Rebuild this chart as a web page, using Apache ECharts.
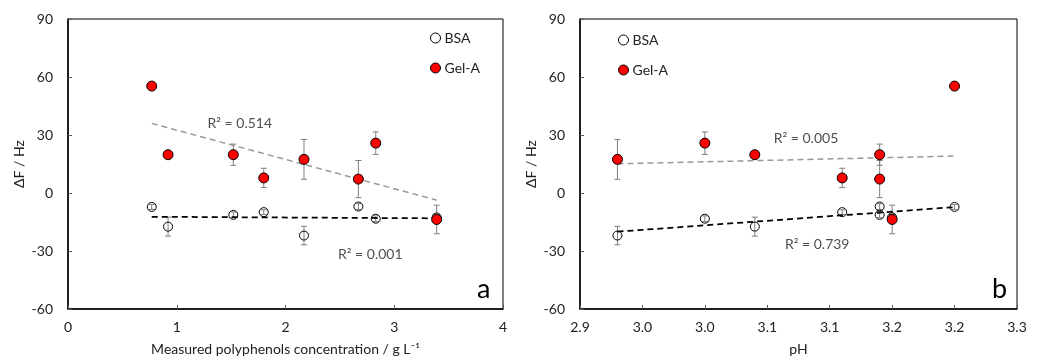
<!DOCTYPE html>
<html>
<head>
<meta charset="utf-8">
<script src="https://cdn.jsdelivr.net/npm/echarts@6/dist/echarts.min.js"></script>
<style>
  html, body { margin: 0; padding: 0; background: #fff; }
  #chart { width: 1040px; height: 361px; }
</style>
</head>
<body>
<div id="chart"></div>
<script>
  // one entry per sample, same order in every array
  const conc = [0.77, 0.92, 1.52, 1.80, 2.17, 2.67, 2.83, 3.39];
  const pH = [3.20, 3.04, 3.14, 3.11, 2.93, 3.14, 3.00, 3.15];
  const gelA = [55.3, 19.8, 19.8, 7.8, 17.4, 7.2, 25.8, -13.7];
  const gelAErr = [0, 0, 5.5, 5.0, 10.3, 9.6, 5.8, 7.4];
  const bsa = [-7.2, -17.4, -11.3, -9.9, -22.0, -7.0, -13.3, -12.6];
  const bsaErr = [1.3, 4.9, 1.5, 1.2, 4.8, 1.5, 1.5, 1.5];

  // trend lines, end points
  const gelTrendA = [[0.77, 36.0], [3.39, -3.7]];
  const bsaTrendA = [[0.77, -12.3], [3.39, -13.1]];
  const gelTrendB = [[2.93, 15.1], [3.20, 19.1]];
  const bsaTrendB = [[2.93, -20.0], [3.20, -7.3]];

  const r2A = ['0.514', '0.001'];
  const r2B = ['0.005', '0.739'];

  const yTicks = { min: -60, max: 90, interval: 30 };

  const font = 'Lato';
  const txt = '#222';

  function zip(xs, ys) {
    return xs.map((x, i) => [x, ys[i]]);
  }
  function zipErr(xs, ys, es) {
    return xs.map((x, i) => [x, ys[i], es[i]]).filter(d => d[2] > 0);
  }

  function errRender(params, api) {
    const x = api.value(0), y = api.value(1), e = api.value(2);
    const top = api.coord([x, y + e]);
    const bot = api.coord([x, y - e]);
    const w = 3;
    const style = { stroke: '#7f7f7f', lineWidth: 1 };
    return {
      type: 'group',
      children: [
        { type: 'line', shape: { x1: top[0], y1: top[1], x2: bot[0], y2: bot[1] }, style: style },
        { type: 'line', shape: { x1: top[0] - w, y1: top[1], x2: top[0] + w, y2: top[1] }, style: style },
        { type: 'line', shape: { x1: bot[0] - w, y1: bot[1], x2: bot[0] + w, y2: bot[1] }, style: style }
      ]
    };
  }

  function xAxis(gi, name, min, max, interval, fmt) {
    return {
      gridIndex: gi, type: 'value', min: min, max: max, interval: interval,
      name: name, nameLocation: 'middle', nameGap: 33,
      nameTextStyle: { fontFamily: font, fontSize: 14, color: txt },
      axisLine: { onZero: false, lineStyle: { color: '#000', width: 1.5 } },
      axisTick: { inside: true, length: 4, lineStyle: { color: '#595959' } },
      axisLabel: { margin: 11, fontFamily: font, fontSize: 14, color: txt, formatter: fmt },
      splitLine: { show: false }
    };
  }
  function yAxis(gi) {
    return {
      gridIndex: gi, type: 'value', min: yTicks.min, max: yTicks.max, interval: yTicks.interval,
      name: 'ΔF / Hz', nameLocation: 'middle', nameGap: 42,
      nameTextStyle: { fontFamily: font, fontSize: 14, color: txt },
      axisLine: { onZero: false, lineStyle: { color: '#000', width: 1.5 } },
      axisTick: { inside: true, length: 4, lineStyle: { color: '#595959' } },
      axisLabel: { margin: 15, fontFamily: font, fontSize: 14, color: txt },
      splitLine: { show: false }
    };
  }

  function trend(gi, data, color, width) {
    return {
      type: 'line', name: 'trend', xAxisIndex: gi, yAxisIndex: gi, data: data,
      symbol: 'none', silent: true, z: 2,
      lineStyle: { color: color, width: width, type: [6, 4] }
    };
  }
  function errors(gi, data) {
    return {
      type: 'custom', name: 'err', xAxisIndex: gi, yAxisIndex: gi,
      renderItem: errRender, data: data, z: 1, silent: true
    };
  }
  function bsaSeries(gi, data) {
    return {
      type: 'scatter', name: 'BSA', xAxisIndex: gi, yAxisIndex: gi, data: data,
      symbol: 'circle', symbolSize: 9, z: 3,
      itemStyle: { color: 'rgba(255,255,255,0)', borderColor: '#000', borderWidth: 1, opacity: 1 }
    };
  }
  function gelSeries(gi, data) {
    return {
      type: 'scatter', name: 'Gel-A', xAxisIndex: gi, yAxisIndex: gi, data: data,
      symbol: 'circle', symbolSize: 10, z: 4,
      itemStyle: { color: '#ff0000', borderColor: '#000', borderWidth: 1, opacity: 1 }
    };
  }
  function r2Label(gi, pos, val) {
    return {
      type: 'scatter', name: 'r2', xAxisIndex: gi, yAxisIndex: gi, silent: true,
      symbolSize: 1, itemStyle: { color: 'rgba(0,0,0,0)' }, z: 5,
      data: [{ value: pos, name: 'R² = ' + val }],
      label: { show: true, position: 'inside', formatter: '{b}', fontFamily: font, fontSize: 14, color: txt }
    };
  }
  function legend(left, top) {
    return {
      data: ['BSA', 'Gel-A'], orient: 'vertical', left: left, top: top,
      itemWidth: 10, itemHeight: 10, itemGap: 16, selectedMode: false,
      icon: 'circle', padding: 0,
      itemStyle: { borderWidth: 1 },
      textStyle: { fontFamily: font, fontSize: 14, color: txt, padding: [0, 0, 0, -1] }
    };
  }

  const chart = echarts.init(document.getElementById('chart'));
  chart.setOption({
    backgroundColor: '#fff',
    animation: false,
    grid: [
      { left: 68, right: 537, top: 19, bottom: 50, show: true, borderColor: '#000', borderWidth: 1 },
      { left: 580, right: 23, top: 19, bottom: 50, show: true, borderColor: '#000', borderWidth: 1 }
    ],
    legend: [legend(430, 31), legend(618, 33)],
    xAxis: [
      xAxis(0, 'Measured polyphenols concentration / g L⁻¹', 0, 4, 1),
      xAxis(1, 'pH', 2.9, 3.25, 0.05, v => (Math.round(v * 10 + 1e-6) / 10).toFixed(1))
    ],
    yAxis: [yAxis(0), yAxis(1)],
    series: [
      errors(0, zipErr(conc, bsa, bsaErr)),
      errors(0, zipErr(conc, gelA, gelAErr)),
      trend(0, gelTrendA, '#999999', 1.5),
      trend(0, bsaTrendA, '#000000', 1.75),
      bsaSeries(0, zip(conc, bsa)),
      gelSeries(0, zip(conc, gelA)),
      r2Label(0, [1.58, 36.0], r2A[0]),
      r2Label(0, [2.78, -31.7], r2A[1]),

      errors(1, zipErr(pH, bsa, bsaErr)),
      errors(1, zipErr(pH, gelA, gelAErr)),
      trend(1, gelTrendB, '#999999', 1.5),
      trend(1, bsaTrendB, '#000000', 1.75),
      bsaSeries(1, zip(pH, bsa)),
      gelSeries(1, zip(pH, gelA)),
      r2Label(1, [3.081, 28.4], r2B[0]),
      r2Label(1, [3.09, -26.6], r2B[1])
    ],
    graphic: [
      { type: 'text', left: 477, top: 276, style: { text: 'a', font: '27px Lato', fill: '#000' } },
      { type: 'text', left: 992, top: 276, style: { text: 'b', font: '27px Lato', fill: '#000' } }
    ]
  });
</script>
</body>
</html>
